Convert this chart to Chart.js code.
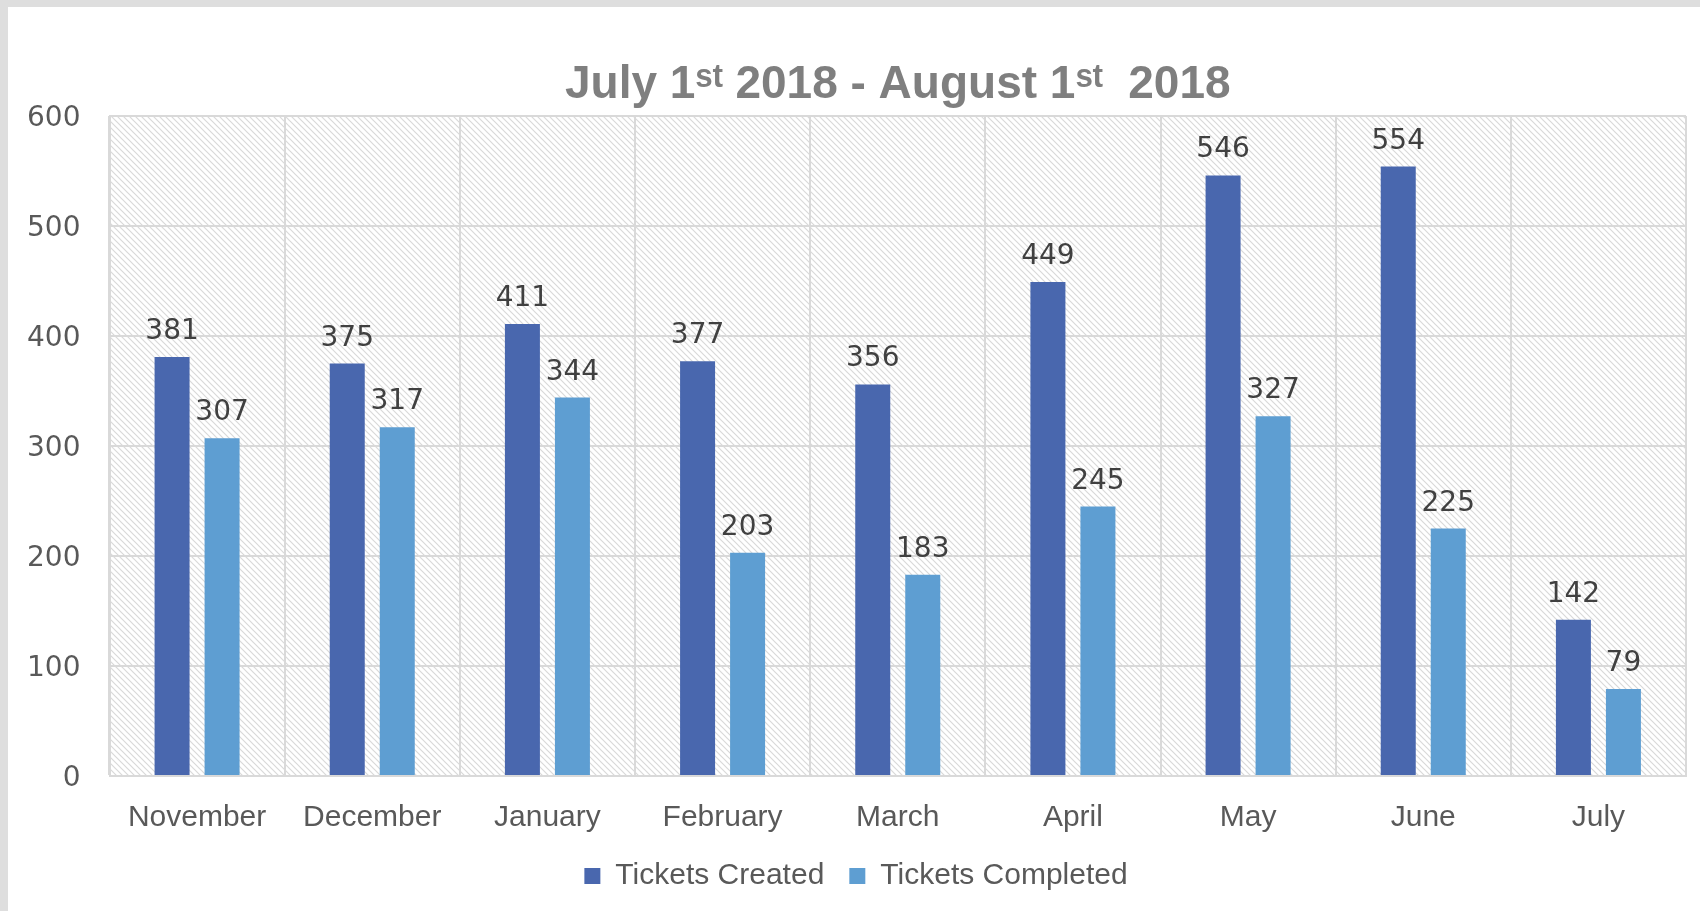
<!DOCTYPE html>
<html>
<head>
<meta charset="utf-8">
<script src="https://cdn.jsdelivr.net/npm/chart.js@4.4.1/dist/chart.umd.min.js"></script>
<style>
html,body{margin:0;padding:0;overflow:hidden;background:#dedede;width:1700px;height:911px}
#wrap{position:absolute;left:8px;top:7px;width:1692px;height:904px;background:#ffffff}
</style>
</head>
<body>
<div id="wrap"><canvas id="c"></canvas></div>
<script>
const categories = ['November','December','January','February','March','April','May','June','July'];
const ticketsCreated = [381, 375, 411, 377, 356, 449, 546, 554, 142];
const ticketsCompleted = [307, 317, 344, 203, 183, 245, 327, 225, 79];
const seriesNames = ['Tickets Created', 'Tickets Completed'];
const yMin = 0, yMax = 600, yStep = 100;
const titleText = 'July 1\u02E2\u1D57 2018 - August 1\u02E2\u1D57  2018';

// hatched plot background
function makeHatch() {
  const p = document.createElement('canvas');
  p.width = 6; p.height = 6;
  const g = p.getContext('2d');
  g.fillStyle = '#ffffff';
  g.fillRect(0, 0, 6, 6);
  g.strokeStyle = '#d9d9d9';
  g.lineWidth = 1.2;
  for (const o of [-6, 0, 6]) {
    g.beginPath();
    g.moveTo(o - 1, -1);
    g.lineTo(o + 7, 7);
    g.stroke();
  }
  return p;
}

const plotBg = {
  id: 'plotBg',
  beforeDraw(chart) {
    const {ctx, chartArea: a} = chart;
    ctx.save();
    ctx.fillStyle = ctx.createPattern(makeHatch(), 'repeat');
    ctx.fillRect(a.left, a.top, a.right - a.left, a.bottom - a.top);
    ctx.restore();
  }
};

const valueLabels = {
  id: 'valueLabels',
  afterDatasetsDraw(chart) {
    const {ctx} = chart;
    ctx.save();
    ctx.font = '28px "DejaVu Sans"';
    ctx.fillStyle = '#404040';
    ctx.textAlign = 'center';
    ctx.textBaseline = 'alphabetic';
    chart.data.datasets.forEach((ds, i) => {
      chart.getDatasetMeta(i).data.forEach((bar, j) => {
        ctx.fillText(String(ds.data[j]), bar.x, bar.y - 18);
      });
    });
    ctx.restore();
  }
};

new Chart(document.getElementById('c'), {
  type: 'bar',
  data: {
    labels: categories,
    datasets: [
      {label: seriesNames[0], data: ticketsCreated, backgroundColor: '#4967ae', borderWidth: 0,
       categoryPercentage: 0.571, barPercentage: 0.7},
      {label: seriesNames[1], data: ticketsCompleted, backgroundColor: '#5e9ed2', borderWidth: 0,
       categoryPercentage: 0.571, barPercentage: 0.7}
    ]
  },
  options: {
    responsive: true,
    maintainAspectRatio: false,
    animation: false,
    layout: {padding: {left: 18, right: 14, top: 0, bottom: 10}},
    plugins: {
      title: {
        display: true,
        text: titleText,
        fullSize: false,
        color: '#7f7f7f',
        font: {family: '"Liberation Sans", Arial, "DejaVu Sans"', size: 46, weight: 'bold', lineHeight: 1.2},
        padding: {top: 50.4, bottom: 3.4}
      },
      legend: {
        position: 'bottom',
        labels: {
          boxWidth: 16, boxHeight: 16, padding: 25,
          color: '#595959',
          font: {family: '"Liberation Sans", Arial', size: 30}
        }
      },
      tooltip: {enabled: false}
    },
    scales: {
      x: {
        grid: {color: '#d9d9d9', lineWidth: 2, drawTicks: false, offset: true},
        border: {color: '#d9d9d9', width: 2},
        ticks: {color: '#595959', padding: 24, font: {family: '"Liberation Sans", Arial', size: 30}},
        afterFit(s) { s.height = 60; }
      },
      y: {
        min: yMin, max: yMax,
        grid: {color: '#d9d9d9', lineWidth: 2, drawTicks: false},
        border: {color: '#d9d9d9', width: 2},
        ticks: {stepSize: yStep, color: '#595959', padding: 29, labelOffset: 3,
                font: {family: '"DejaVu Sans"', size: 28}},
        afterFit(s) { s.width = 83.5; }
      }
    }
  },
  plugins: [plotBg, valueLabels]
});
</script>
</body>
</html>
